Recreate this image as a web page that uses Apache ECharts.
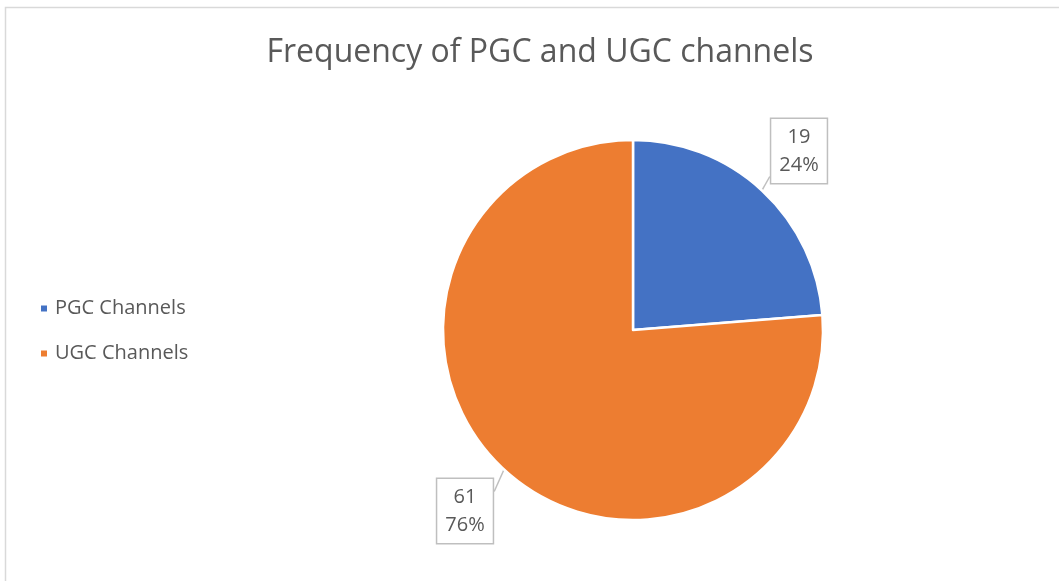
<!DOCTYPE html>
<html><head><meta charset="utf-8">
<script src="https://cdn.jsdelivr.net/npm/echarts@6/dist/echarts.min.js"></script>
<style>html,body{margin:0;padding:0;background:#fff}#c{width:1059px;height:581px}</style>
</head><body><div id="c"></div>
<script>
const categories = ['PGC Channels', 'UGC Channels'];
const values = [19, 61];
const colors = ['#4472C4', '#ED7D31'];
const labelPos = [[799, 151], [465, 511]];

const chart = echarts.init(document.getElementById('c'));
const font = '"Open Sans", "Noto Sans", sans-serif';
chart.setOption({
  animation: false,
  backgroundColor: '#fff',
  color: colors,
  title: {
    text: 'Frequency of PGC and UGC channels',
    left: 535, top: 32, textAlign: 'center',
    textStyle: { fontFamily: font, fontSize: 32, fontWeight: 'normal', color: '#595959' }
  },
  graphic: [{
    type: 'rect', shape: { x: 5.5, y: 7.5, width: 1200, height: 700 },
    style: { fill: 'none', stroke: '#d9d9d9', lineWidth: 1.5 }, silent: true
  }],
  legend: {
    orient: 'vertical', left: 34, top: 290,
    itemWidth: 8, itemHeight: 8, itemGap: 18, icon: 'rect',
    textStyle: { fontFamily: font, fontSize: 20, color: '#595959', lineHeight: 27, padding: [0, 0, 0, 2] },
    data: categories
  },
  series: [{
    type: 'pie', center: [633, 330], radius: 190,
    startAngle: 90, clockwise: true,
    itemStyle: { borderColor: '#fff', borderWidth: 2.5 },
    data: categories.map((n, i) => ({ name: n, value: values[i] })),
    label: {
      show: true, position: 'outside',
      formatter: p => p.value + '\n' + Math.round(p.percent) + '%',
      fontFamily: font, fontSize: 20, color: '#595959', lineHeight: 28,
      align: 'center',
      borderColor: '#bfbfbf', borderWidth: 1.5, backgroundColor: '#fff',
      padding: [5, 8, 3, 8]
    },
    labelLine: { show: true, length: 10, length2: 5, lineStyle: { color: '#bfbfbf', width: 1.5 } },
    labelLayout: p => {
      const [cx, cy] = labelPos[p.dataIndex];
      const w = p.labelRect.width, h = p.labelRect.height;
      const start = p.labelLinePoints[0];
      const end = p.dataIndex === 0 ? [cx - w / 2, cy + h / 2 - 8] : [cx + w / 2, cy - h / 2 + 14];
      return { x: cx, y: cy, align: 'center', verticalAlign: 'middle', labelLinePoints: [start, end] };
    }
  }]
});
</script></body></html>
